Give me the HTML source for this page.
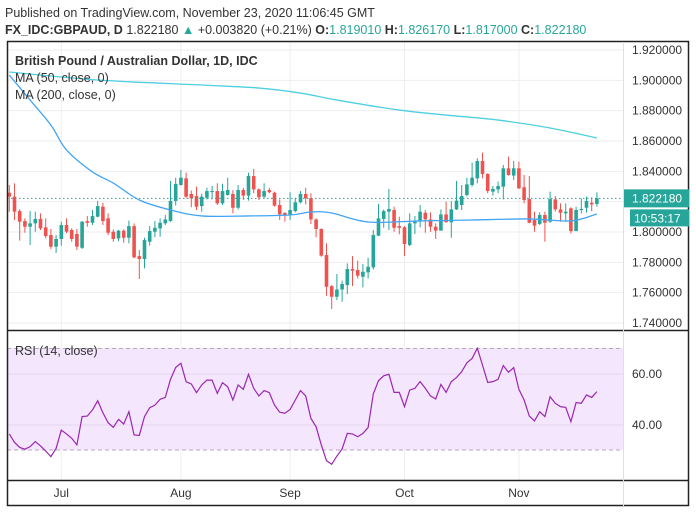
<!DOCTYPE html>
<html><head><meta charset="utf-8"><style>
body{margin:0;background:#fff;width:696px;height:513px;overflow:hidden;font-family:"Liberation Sans",sans-serif}
svg{display:block}
</style></head><body>
<svg id="c" width="696" height="513" xmlns="http://www.w3.org/2000/svg">
<text x="5" y="17" font-size="12.5" fill="#333">Published on TradingView.com, November 23, 2020 11:06:45 GMT</text>
<text x="5" y="34" font-size="12.5" fill="#333"><tspan font-weight="bold">FX_IDC:GBPAUD, D</tspan> 1.822180 <tspan fill="#26a69a">▲</tspan> +0.003820 (+0.21%) <tspan font-weight="bold">O:</tspan><tspan fill="#26a69a">1.819010</tspan> <tspan font-weight="bold">H:</tspan><tspan fill="#26a69a">1.826170</tspan> <tspan font-weight="bold">L:</tspan><tspan fill="#26a69a">1.817000</tspan> <tspan font-weight="bold">C:</tspan><tspan fill="#26a69a">1.822180</tspan></text>
<g id="grid"></g>
<rect x="7" y="348" width="616" height="102" fill="#f3e6fd"/>
<line x1="7" x2="623" y1="348.5" y2="348.5" stroke="#b8aab8" stroke-dasharray="4,3"/>
<line x1="7" x2="623" y1="450" y2="450" stroke="#b8aab8" stroke-dasharray="4,3"/>
<g id="marks"></g>
<rect x="7.5" y="41.5" width="681" height="464" fill="none" stroke="#222" stroke-width="1.5"/>
<line x1="7" x2="689" y1="330.5" y2="330.5" stroke="#222" stroke-width="1.5"/>
<line x1="7" x2="689" y1="480.5" y2="480.5" stroke="#222" stroke-width="1.5"/>
<line x1="623.5" x2="623.5" y1="42" y2="506" stroke="#e0e0e0"/>
<text x="15" y="65" font-size="12.5" font-weight="bold" fill="#333">British Pound / Australian Dollar, 1D, IDC</text>
<text x="15" y="82" font-size="12.5" fill="#333">MA (50, close, 0)</text>
<text x="15" y="99" font-size="12.5" fill="#333">MA (200, close, 0)</text>
<text x="15" y="355" font-size="12.5" fill="#333">RSI (14, close)</text>
<g id="axes"></g>
</svg>
<script>
const open=[1.8259,1.8233,1.8138,1.8072,1.8035,1.8057,1.8086,1.8031,1.7980,1.7903,1.7954,1.8046,1.8013,1.7987,1.7896,1.8072,1.8061,1.8101,1.8167,1.8090,1.8002,1.7958,1.8009,1.7962,1.8039,1.7841,1.7822,1.7936,1.8002,1.8024,1.8057,1.8072,1.8205,1.8310,1.8354,1.8251,1.8237,1.8171,1.8226,1.8266,1.8270,1.8189,1.8244,1.8251,1.8160,1.8277,1.8240,1.8369,1.8281,1.8233,1.8277,1.8259,1.8178,1.8127,1.8116,1.8138,1.8196,1.8251,1.8222,1.8083,1.8020,1.7848,1.7643,1.7573,1.7621,1.7650,1.7756,1.7749,1.7705,1.7734,1.7767,1.7976,1.8086,1.8134,1.8145,1.8039,1.8031,1.7914,1.8057,1.8072,1.8127,1.8083,1.8035,1.8009,1.8116,1.8064,1.8149,1.8178,1.8244,1.8310,1.8354,1.8468,1.8383,1.8266,1.8281,1.8299,1.8420,1.8372,1.8420,1.8295,1.8217,1.8079,1.8053,1.8112,1.8068,1.8215,1.8149,1.8123,1.8156,1.8006,1.8145,1.8160,1.8193,1.8185];
const close=[1.8233,1.8134,1.8068,1.8035,1.8057,1.8086,1.8024,1.7973,1.7903,1.7954,1.8046,1.8002,1.7954,1.7903,1.8068,1.8061,1.8105,1.8171,1.8072,1.7995,1.7954,1.8009,1.7962,1.8039,1.7833,1.7822,1.7947,1.8006,1.8028,1.8061,1.8083,1.8205,1.8317,1.8358,1.8233,1.8222,1.8167,1.8233,1.8270,1.8270,1.8189,1.8270,1.8277,1.8160,1.8277,1.8240,1.8369,1.8281,1.8229,1.8270,1.8262,1.8174,1.8116,1.8112,1.8145,1.8196,1.8251,1.8222,1.8083,1.8020,1.7844,1.7639,1.7573,1.7621,1.7657,1.7756,1.7745,1.7712,1.7738,1.7771,1.7980,1.8090,1.8138,1.8152,1.8028,1.8028,1.7921,1.8057,1.8075,1.8134,1.8083,1.8035,1.8009,1.8116,1.8064,1.8149,1.8207,1.8237,1.8314,1.8358,1.8468,1.8383,1.8270,1.8284,1.8303,1.8420,1.8376,1.8420,1.8288,1.8211,1.8061,1.8042,1.8112,1.8061,1.8217,1.8149,1.8127,1.8134,1.8006,1.8145,1.8152,1.8205,1.8182,1.8222];
const high=[1.8310,1.8321,1.8149,1.8090,1.8138,1.8134,1.8123,1.8090,1.8020,1.7980,1.8068,1.8090,1.8024,1.8020,1.8072,1.8105,1.8145,1.8205,1.8193,1.8123,1.8017,1.8013,1.8017,1.8075,1.8057,1.7881,1.7962,1.8039,1.8072,1.8090,1.8112,1.8336,1.8358,1.8409,1.8391,1.8273,1.8299,1.8251,1.8292,1.8303,1.8321,1.8317,1.8358,1.8277,1.8310,1.8292,1.8391,1.8416,1.8288,1.8321,1.8292,1.8266,1.8215,1.8127,1.8262,1.8226,1.8270,1.8292,1.8255,1.8090,1.8024,1.7925,1.7650,1.7723,1.7679,1.7793,1.7841,1.7811,1.7789,1.7830,1.8013,1.8185,1.8149,1.8284,1.8167,1.8101,1.8039,1.8123,1.8105,1.8178,1.8145,1.8130,1.8057,1.8149,1.8200,1.8205,1.8336,1.8310,1.8358,1.8457,1.8486,1.8523,1.8387,1.8303,1.8332,1.8442,1.8497,1.8468,1.8464,1.8376,1.8369,1.8134,1.8130,1.8134,1.8266,1.8237,1.8189,1.8189,1.8163,1.8167,1.8222,1.8233,1.8229,1.8262];
const low=[1.8134,1.8079,1.7943,1.7995,1.7914,1.8002,1.8013,1.7958,1.7888,1.7863,1.7910,1.7991,1.7936,1.7881,1.7888,1.8035,1.8046,1.8097,1.8046,1.7980,1.7936,1.7940,1.7929,1.7925,1.7826,1.7690,1.7760,1.7910,1.7965,1.7969,1.8046,1.8068,1.8174,1.8305,1.8222,1.8163,1.8145,1.8134,1.8215,1.8215,1.8178,1.8178,1.8240,1.8123,1.8149,1.8211,1.8207,1.8255,1.8211,1.8222,1.8255,1.8167,1.8079,1.8068,1.8079,1.8130,1.8189,1.8182,1.8053,1.7965,1.7837,1.7580,1.7492,1.7551,1.7540,1.7591,1.7643,1.7694,1.7635,1.7694,1.7753,1.7973,1.8028,1.8013,1.8002,1.7985,1.7841,1.7907,1.7987,1.8031,1.7995,1.8002,1.7954,1.8009,1.8064,1.7962,1.8145,1.8145,1.8233,1.8299,1.8321,1.8354,1.8255,1.8240,1.8255,1.8215,1.8372,1.8343,1.8284,1.8189,1.8057,1.8002,1.8046,1.7936,1.8061,1.8134,1.8068,1.8068,1.7991,1.8006,1.8123,1.8127,1.8138,1.8167];
const ma50Idx=[0,4,8,11,16,20,25,31,37,46,54,58,62,69,79,89,100,108,113];
const ma50=[1.9035,1.8870,1.8705,1.8541,1.8396,1.8323,1.8211,1.8145,1.8106,1.8106,1.8112,1.8132,1.8125,1.8066,1.8073,1.8079,1.8086,1.8073,1.8119];
const ma200Idx=[0,17,37,48,56,63,75,84,94,104,113];
const ma200=[1.9055,1.9002,1.8969,1.8949,1.8916,1.8870,1.8804,1.8771,1.8738,1.8686,1.8620];
const rsi=[36.5,33.2,31.2,30.5,31.5,33.5,31.8,29.8,27.6,30.8,38.0,36.5,34.8,32.2,43.3,43.5,45.9,49.5,44.8,40.9,39.1,42.2,40.4,45.2,36.1,35.9,43.3,46.8,47.8,50.1,50.8,57.9,62.6,64.2,57.0,56.1,52.7,55.7,57.6,57.6,52.4,56.6,55.0,49.8,55.7,54.0,59.9,54.4,51.4,53.5,52.7,47.8,45.0,44.6,46.1,49.8,53.5,51.4,42.6,39.3,32.2,26.0,24.6,27.8,30.6,36.7,36.5,35.4,36.7,39.0,52.2,57.4,59.3,59.9,52.8,52.8,47.2,53.7,54.4,57.0,54.4,51.4,50.2,55.9,52.8,57.0,58.6,60.9,64.4,66.1,70.1,63.5,56.7,57.0,57.9,63.3,60.7,62.5,54.0,49.8,43.5,41.6,45.2,43.3,51.1,48.5,47.2,46.9,41.3,48.8,48.5,51.8,50.8,53.1];
const priceTicks=[1.92,1.90,1.88,1.86,1.84,1.82,1.80,1.78,1.76,1.74];
const rsiTicks=[60,40];
const months=["Jul","Aug","Sep","Oct","Nov"];
const monthIdx=[10,33,54,76,98];
const lastPrice=1.82218;

const NS="http://www.w3.org/2000/svg";
const X=i=>9.3+i*5.2;
const Y=p=>50+(1.92-p)*1516.7;
const RY=v=>374+(60-v)*2.55;
function mk(tag,attrs,parent){const e=document.createElementNS(NS,tag);for(const k in attrs)e.setAttribute(k,attrs[k]);document.getElementById(parent).appendChild(e);return e;}
function smooth(pts){let d='M'+pts[0][0]+','+pts[0][1];for(let i=0;i<pts.length-1;i++){const p0=pts[Math.max(0,i-1)],p1=pts[i],p2=pts[i+1],p3=pts[Math.min(pts.length-1,i+2)];
const c1=[p1[0]+(p2[0]-p0[0])/6,p1[1]+(p2[1]-p0[1])/6],c2=[p2[0]-(p3[0]-p1[0])/6,p2[1]-(p3[1]-p1[1])/6];
d+=' C'+c1.join(',')+' '+c2.join(',')+' '+p2.join(',');}return d;}

priceTicks.forEach(p=>{const g=mk('line',{x1:7,x2:623,y1:Y(p),y2:Y(p),stroke:'#eeeeee'},'grid');

});
rsiTicks.forEach(v=>{const g=mk('line',{x1:7,x2:623,y1:RY(v),y2:RY(v),stroke:'#e4d6ec'},'marks');

});
monthIdx.forEach(i=>{const g=mk('line',{x1:X(i),x2:X(i),y1:42,y2:480,stroke:'#eeeeee'},'grid');

});

for(let i=0;i<close.length;i++){
  const up=close[i]>=open[i];const col=up?'#26a69a':'#ef5350';
  const w=mk('line',{x1:X(i),x2:X(i),y1:Y(high[i]),y2:Y(low[i]),stroke:col,'stroke-width':1},'marks');
  
  
  const t=Y(Math.max(open[i],close[i])),b=Y(Math.min(open[i],close[i]));
  const r=mk('rect',{x:X(i)-1.8,y:t,width:3.6,height:Math.max(1,b-t),fill:col},'marks');
  
  
}
const m50=mk('path',{d:smooth(ma50.map((v,k)=>[X(ma50Idx[k]),Y(v)])),fill:'none',stroke:'#42a5f5','stroke-width':1.3},'marks');


const m200=mk('path',{d:smooth(ma200.map((v,k)=>[X(ma200Idx[k]),Y(v)])),fill:'none',stroke:'#4dd0e1','stroke-width':1.3},'marks');


const rl=mk('polyline',{points:rsi.map((v,i)=>X(i)+','+RY(v)).join(' '),fill:'none',stroke:'#9c27b0','stroke-width':1.2},'marks');


const lp=mk('line',{x1:7,x2:623,y1:Y(lastPrice),y2:Y(lastPrice),stroke:'#26a69a','stroke-dasharray':'1.5,2.5'},'marks');



priceTicks.forEach(p=>{const t=mk('text',{x:632,y:Y(p)+4,'font-size':12,fill:'#333'},'axes');t.textContent=p.toFixed(6);

});
rsiTicks.forEach(v=>{const t=mk('text',{x:632,y:RY(v)+4,'font-size':12,fill:'#333'},'axes');t.textContent=v.toFixed(2);

});
months.forEach((m,k)=>{const t=mk('text',{x:X(monthIdx[k]),y:497,'font-size':12,fill:'#333','text-anchor':'middle'},'axes');t.textContent=m;

});
const lb=mk('rect',{x:624,y:Y(lastPrice)-9,width:65,height:18,fill:'#26a69a'},'axes');


const lt=mk('text',{x:632,y:Y(lastPrice)+4,'font-size':12,fill:'#fff'},'axes');lt.textContent=lastPrice.toFixed(6);


const cb=mk('rect',{x:630,y:Y(lastPrice)+11,width:59,height:17,fill:'#26a69a'},'axes');


const ct=mk('text',{x:634,y:Y(lastPrice)+24,'font-size':12,fill:'#fff'},'axes');ct.textContent='10:53:17';


</script>
</body></html>
